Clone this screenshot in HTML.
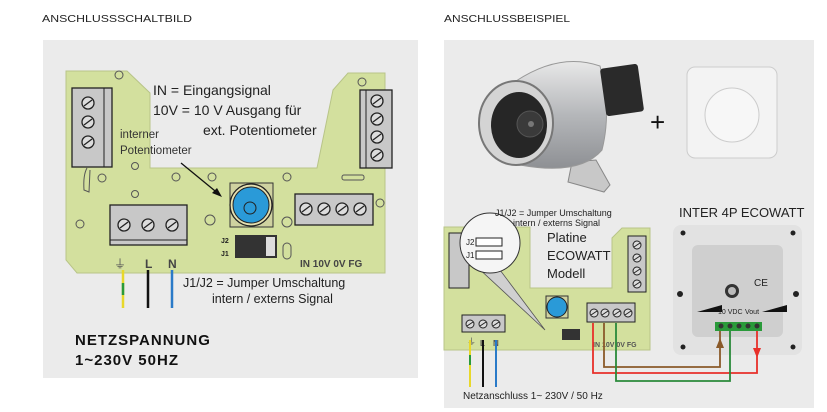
<!DOCTYPE html>
<html><head><meta charset="utf-8"><style>
body{margin:0;background:#fff;}
svg{display:block;font-family:"Liberation Sans",sans-serif;}
</style></head><body>
<svg width="827" height="412" viewBox="0 0 827 412" xmlns="http://www.w3.org/2000/svg">
<defs>
<g id="scr"><circle r="6" fill="#dcdcdc" stroke="#222" stroke-width="1.3"/><line x1="-4" y1="3" x2="4" y2="-3" stroke="#222" stroke-width="1.3"/></g>
<g id="scs"><circle r="4" fill="#dcdcdc" stroke="#222" stroke-width="1"/><line x1="-3" y1="2" x2="3" y2="-2" stroke="#222" stroke-width="1"/></g>
<linearGradient id="met" x1="0" y1="0" x2="0" y2="1"><stop offset="0" stop-color="#e8e8e8"/><stop offset="0.5" stop-color="#b5b7ba"/><stop offset="1" stop-color="#8e9094"/></linearGradient>
</defs>
<text x="42" y="22" font-size="10.5" fill="#222" textLength="150" lengthAdjust="spacingAndGlyphs">ANSCHLUSSSCHALTBILD</text>
<text x="444" y="22" font-size="10.5" fill="#222" textLength="126" lengthAdjust="spacingAndGlyphs">ANSCHLUSSBEISPIEL</text>
<rect x="43" y="40" width="375" height="338" fill="#ebebeb"/>
<rect x="444" y="40" width="370" height="368" fill="#ebebeb"/>

<!-- LEFT PCB -->
<polygon points="66,71 127,71 150,93 150,168 317,168 333,90 348,73 385,73 385,273 77,273 66,260" fill="#d3e09e" stroke="#b8c488" stroke-width="1"/>
<g fill="none" stroke="#555" stroke-width="1">
<circle cx="119" cy="75" r="4"/><circle cx="362" cy="82" r="4"/><circle cx="102" cy="178" r="4"/><circle cx="135" cy="166" r="3.5"/><circle cx="176" cy="177" r="4"/><circle cx="135" cy="194" r="3.5"/><circle cx="212" cy="177" r="4"/><circle cx="287" cy="177" r="4"/><circle cx="380" cy="203" r="4"/><circle cx="80" cy="224" r="4"/><circle cx="210" cy="220" r="5"/><circle cx="287" cy="222" r="5"/>
<rect x="283" y="243" width="8" height="16" rx="4"/><rect x="342" y="175" width="22" height="5" rx="2"/>
<path d="M87 168 Q83 175 84 190 L89 192 L90 170"/>
</g>
<rect x="72" y="88" width="40" height="79" fill="#c8c8c8" stroke="#222" stroke-width="1.3"/>
<line x1="104" y1="88" x2="104" y2="167" stroke="#222"/>
<use href="#scr" x="88" y="103"/><use href="#scr" x="88" y="122"/><use href="#scr" x="88" y="142"/>
<rect x="360" y="90" width="32" height="78" fill="#c8c8c8" stroke="#222" stroke-width="1.3"/>
<line x1="366" y1="90" x2="366" y2="168" stroke="#222"/>
<use href="#scr" x="377" y="101"/><use href="#scr" x="377" y="119"/><use href="#scr" x="377" y="137"/><use href="#scr" x="377" y="155"/>
<rect x="110" y="205" width="77" height="40" fill="#c8c8c8" stroke="#222" stroke-width="1.3"/>
<line x1="110" y1="240" x2="187" y2="240" stroke="#222"/>
<use href="#scr" x="124" y="225"/><use href="#scr" x="148" y="225"/><use href="#scr" x="172" y="225"/>
<rect x="295" y="194" width="78" height="31" fill="#c8c8c8" stroke="#222" stroke-width="1.3"/>
<use href="#scr" x="306" y="209"/><use href="#scr" x="324" y="209"/><use href="#scr" x="342" y="209"/><use href="#scr" x="360" y="209"/>
<rect x="230" y="183" width="43" height="44" fill="#cfd2a0" stroke="#333"/>
<circle cx="251" cy="205" r="21" fill="#e5e0b0" stroke="#222" stroke-width="1.3"/>
<circle cx="251" cy="205" r="18" fill="#2a9ad8" stroke="#222"/>
<circle cx="250" cy="208" r="6" fill="none" stroke="#222"/>
<rect x="235" y="235" width="42" height="23" fill="#333"/>
<rect x="266" y="237" width="9" height="19" fill="#ddd"/>
<text x="221" y="243" font-size="7" font-weight="bold" fill="#222">J2</text>
<text x="221" y="256" font-size="7" font-weight="bold" fill="#222">J1</text>
<text x="300" y="267" font-size="10" font-weight="bold" fill="#444">IN 10V 0V FG</text>
<text x="114" y="268" font-size="12" fill="#555">⏚</text>
<text x="145" y="268" font-size="12" font-weight="bold" fill="#444">L</text>
<text x="168" y="268" font-size="12" font-weight="bold" fill="#444">N</text>
<line x1="123" y1="270" x2="123" y2="308" stroke="#e8d82a" stroke-width="2.5"/>
<line x1="123" y1="283" x2="123" y2="295" stroke="#2a9a3a" stroke-width="2.5"/>
<line x1="148" y1="270" x2="148" y2="308" stroke="#111" stroke-width="2.5"/>
<line x1="172" y1="270" x2="172" y2="308" stroke="#2a7ac8" stroke-width="2.5"/>
<text x="153" y="95" font-size="14" fill="#222">IN  = Eingangsignal</text>
<text x="153" y="115" font-size="14" fill="#222">10V = 10 V Ausgang für</text>
<text x="203" y="135" font-size="14" fill="#222">ext. Potentiometer</text>
<text x="120" y="138" font-size="11.5" fill="#333">interner</text>
<text x="120" y="154" font-size="11.5" fill="#333">Potentiometer</text>
<line x1="181" y1="163" x2="220" y2="195" stroke="#111" stroke-width="1.3"/>
<polygon points="222,197 212,193 217,188" fill="#111"/>
<text x="183" y="287" font-size="12.5" fill="#222">J1/J2 = Jumper Umschaltung</text>
<text x="212" y="303" font-size="12.5" fill="#222">intern / externs Signal</text>
<text x="75" y="345" font-size="15" font-weight="bold" fill="#111" letter-spacing="1">NETZSPANNUNG</text>
<text x="75" y="365" font-size="15" font-weight="bold" fill="#111" letter-spacing="1">1~230V 50HZ</text>

<!-- RIGHT: fan -->
<path d="M572 162 L568 182 L604 192 L610 185 L596 160 Z" fill="#c8c8c8" stroke="#888"/>
<path d="M516 81 Q560 52 600 66 Q612 110 602 150 Q580 176 520 165 Z" fill="url(#met)" stroke="#999"/>
<rect x="603" y="66" width="38" height="48" rx="3" fill="#2a2a2a" transform="rotate(-8 622 90)"/>
<ellipse cx="516" cy="123" rx="37" ry="42" fill="#d4d4d4" stroke="#777" stroke-width="2"/>
<ellipse cx="519" cy="125" rx="28" ry="33" fill="#262626"/>
<circle cx="530" cy="124" r="13" fill="#3a3a3a" stroke="#555"/>
<circle cx="531" cy="124" r="3" fill="#777"/>
<text x="650" y="131" font-size="26" fill="#111">+</text>
<rect x="687" y="67" width="90" height="91" rx="8" fill="#f3f3f3" stroke="#ccc"/>
<circle cx="732" cy="115" r="27" fill="#f7f7f7" stroke="#ccc"/>

<!-- right PCB -->
<polygon points="444,227 530,227 530,288 612,288 612,238 622,228 650,228 650,350 444,350" fill="#d3e09e" stroke="#b8c488"/>
<rect x="449" y="233" width="20" height="55" fill="#c8c8c8" stroke="#222"/>
<rect x="628" y="236" width="18" height="56" fill="#c8c8c8" stroke="#222"/>
<use href="#scs" x="637" y="245"/><use href="#scs" x="637" y="258"/><use href="#scs" x="637" y="271"/><use href="#scs" x="637" y="284"/>
<rect x="462" y="315" width="43" height="17" fill="#c8c8c8" stroke="#222"/>
<use href="#scs" x="470" y="324"/><use href="#scs" x="483" y="324"/><use href="#scs" x="496" y="324"/>
<rect x="587" y="303" width="48" height="19" fill="#c8c8c8" stroke="#222"/>
<use href="#scs" x="594" y="313"/><use href="#scs" x="605" y="313"/><use href="#scs" x="617" y="313"/><use href="#scs" x="628" y="313"/>
<rect x="546" y="296" width="22" height="22" fill="#cfd2a0" stroke="#333"/>
<circle cx="557" cy="307" r="10" fill="#2a9ad8" stroke="#222"/>
<rect x="562" y="329" width="18" height="11" fill="#333"/>
<text x="593" y="347" font-size="7" font-weight="bold" fill="#555">IN 10V 0V FG</text>
<polygon points="475,265 500,270 545,330" fill="#d0d0d0" stroke="#555" stroke-width="0.8"/>
<circle cx="490" cy="243" r="30" fill="#f5f5f5" stroke="#333"/>
<rect x="476" y="238" width="26" height="8" fill="#fff" stroke="#222"/>
<rect x="476" y="251" width="26" height="8" fill="#fff" stroke="#222"/>
<text x="466" y="245" font-size="8" fill="#222">J2</text>
<text x="466" y="258" font-size="8" fill="#222">J1</text>
<text x="495" y="216" font-size="9" fill="#222">J1/J2 = Jumper Umschaltung</text>
<text x="513" y="226" font-size="9" fill="#222">intern / externs Signal</text>
<text x="547" y="242" font-size="13" fill="#222">Platine</text>
<text x="547" y="260" font-size="13" fill="#222">ECOWATT</text>
<text x="547" y="278" font-size="13" fill="#222">Modell</text>
<text x="679" y="217" font-size="13" fill="#222">INTER 4P ECOWATT</text>
<rect x="673" y="225" width="129" height="130" rx="8" fill="#e2e2e2"/>
<rect x="692" y="245" width="91" height="92" rx="6" fill="#cfcfcf"/>
<circle cx="732" cy="291" r="7" fill="#333"/><circle cx="732" cy="291" r="4" fill="#bbb"/>
<text x="754" y="286" font-size="10" fill="#222">CE</text>
<polygon points="697,312 722,305 722,312" fill="#111"/>
<polygon points="762,312 787,305 787,312" fill="#111"/>
<text x="718" y="314" font-size="7" fill="#222">10 VDC</text><text x="745" y="314" font-size="7" fill="#222">Vout</text>
<rect x="715" y="322" width="47" height="9" fill="#2a9a3a"/>
<g fill="#333"><circle cx="721" cy="326" r="2.5"/><circle cx="730" cy="326" r="2.5"/><circle cx="739" cy="326" r="2.5"/><circle cx="748" cy="326" r="2.5"/><circle cx="757" cy="326" r="2.5"/></g>
<g fill="#222"><circle cx="683" cy="233" r="2.5"/><circle cx="793" cy="233" r="2.5"/><circle cx="683" cy="347" r="2.5"/><circle cx="793" cy="347" r="2.5"/><circle cx="680" cy="294" r="3"/><circle cx="796" cy="294" r="3"/></g>
<polyline points="593,323 593,373 757,373 757,331" fill="none" stroke="#e8302a" stroke-width="1.8"/>
<polygon points="753,348 761,348 757,358" fill="#e8302a"/>
<polyline points="604,323 604,367 720,367 720,331" fill="none" stroke="#8a5a2a" stroke-width="1.8"/>
<polygon points="716,348 724,348 720,338" fill="#8a5a2a"/>
<polyline points="616,323 616,381 730,381 730,331" fill="none" stroke="#2a8a3a" stroke-width="1.8"/>
<text x="467" y="345" font-size="9" fill="#555">⏚</text><text x="480" y="346" font-size="8" font-weight="bold" fill="#555">L</text><text x="493" y="346" font-size="8" font-weight="bold" fill="#555">N</text>
<line x1="470" y1="340" x2="470" y2="387" stroke="#e8d82a" stroke-width="2"/>
<line x1="470" y1="355" x2="470" y2="365" stroke="#2a9a3a" stroke-width="2"/>
<line x1="483" y1="340" x2="483" y2="387" stroke="#111" stroke-width="2"/>
<line x1="496" y1="340" x2="496" y2="387" stroke="#2a7ac8" stroke-width="2"/>
<text x="463" y="399" font-size="10" fill="#222">Netzanschluss 1~ 230V / 50 Hz</text>
</svg>
</body></html>
